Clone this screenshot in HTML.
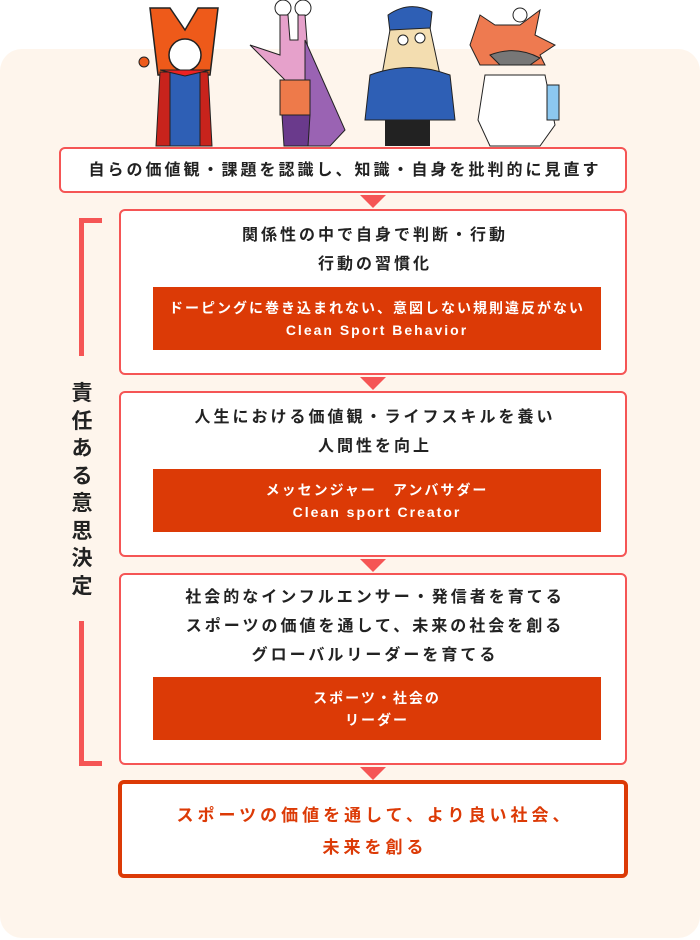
<!DOCTYPE html>
<html><head><meta charset="utf-8"><style>
*{margin:0;padding:0;box-sizing:border-box}
body{width:700px;height:940px;background:#fff;position:relative;overflow:hidden;font-family:"Liberation Sans","Noto Sans CJK JP",sans-serif;color:#222}
.panel{position:absolute;left:0;top:49px;width:700px;height:889px;background:#fef5ec;border-radius:22px}
.box{position:absolute;background:#fff;border:2px solid #f55555;border-radius:6px}
.t{position:absolute;left:0;right:0;text-align:center;font-size:16px;font-weight:bold;letter-spacing:3px;padding-left:4px;line-height:29px}
.bar{position:absolute;left:32px;width:448px;height:63px;background:#dc3a06;color:#fff;font-size:14px;font-weight:bold;letter-spacing:2px;text-align:center;display:flex;flex-direction:column;justify-content:center;line-height:22px}
.arr{position:absolute;left:360px;width:0;height:0;border-left:13px solid transparent;border-right:13px solid transparent;border-top:13px solid #f55555}
.br{position:absolute;background:#f55555}
.v{position:absolute;left:69px;top:380px;width:26px;font-size:21px;font-weight:bold;line-height:27.5px;text-align:center}
</style></head><body>
<div class="panel"></div>
<svg style="position:absolute;left:0;top:0" width="700" height="150" viewBox="0 0 700 150">
<path d="M150 8 L170 8 L185 30 L198 8 L218 8 L210 75 L158 75 Z" fill="#ee5a1a" stroke="#222" stroke-width="1.5"/>
<path d="M160 72 L156 146 L212 146 L208 72 Z" fill="#c8231c" stroke="#222"/>
<rect x="170" y="72" width="30" height="74" fill="#2e5fb5" stroke="#222"/>
<circle cx="185" cy="55" r="16" fill="#fff" stroke="#222" stroke-width="1.5"/>
<path d="M160 70 L210 70 L185 76Z" fill="#e22" stroke="#222"/>
<circle cx="144" cy="62" r="5" fill="#ee5a1a" stroke="#222"/>
<circle cx="283" cy="8" r="8" fill="#fff" stroke="#222"/><circle cx="303" cy="8" r="8" fill="#fff" stroke="#222"/>
<path d="M280 15 L288 15 L290 40 L298 40 L298 15 L305 15 L310 80 L295 100 L285 80 L250 45 L280 55Z" fill="#e6a1cb" stroke="#222"/>
<path d="M305 40 L345 130 L330 146 L305 146Z" fill="#9a63b3" stroke="#222"/>
<rect x="280" y="80" width="30" height="35" fill="#ee7a4a" stroke="#222"/>
<path d="M282 115 L310 115 L308 146 L284 146Z" fill="#6a3a8c" stroke="#222"/>
<path d="M388 15 Q410 0 432 12 L430 30 L390 32Z" fill="#2e5fb5" stroke="#222"/>
<path d="M390 30 L430 28 L440 75 L382 75Z" fill="#f3ddb0" stroke="#222"/>
<path d="M370 75 Q410 60 450 75 L455 120 L365 120Z" fill="#2e5fb5" stroke="#222"/>
<rect x="385" y="120" width="45" height="26" fill="#222"/>
<circle cx="403" cy="40" r="5" fill="#fff" stroke="#222"/><circle cx="420" cy="38" r="5" fill="#fff" stroke="#222"/>
<path d="M480 15 L495 25 L520 25 L540 10 L535 35 L555 45 L540 55 L545 65 L480 65 L470 45Z" fill="#ee7a50" stroke="#222"/>
<circle cx="520" cy="15" r="7" fill="#fff" stroke="#222"/>
<path d="M490 55 Q515 45 540 58 L530 65 L500 65Z" fill="#777" stroke="#222"/>
<path d="M485 75 L545 75 L555 125 L540 146 L490 146 L478 120Z" fill="#fff" stroke="#222"/>
<rect x="547" y="85" width="12" height="35" fill="#8cc8f0" stroke="#222"/>
</svg>
<div class="box" style="left:59px;top:147px;width:568px;height:46px"><div class="t" style="top:7px">自らの価値観・課題を認識し、知識・自身を批判的に見直す</div></div>
<div class="arr" style="top:195px"></div>
<div class="box" style="left:119px;top:209px;width:508px;height:166px">
<div class="t" style="top:10px">関係性の中で自身で判断・行動<br>行動の習慣化</div>
<div class="bar" style="top:76px">ドーピングに巻き込まれない、意図しない規則違反がない<br>Clean Sport Behavior</div></div>
<div class="arr" style="top:377px"></div>
<div class="box" style="left:119px;top:391px;width:508px;height:166px">
<div class="t" style="top:10px">人生における価値観・ライフスキルを養い<br>人間性を向上</div>
<div class="bar" style="top:76px">メッセンジャー　アンバサダー<br>Clean sport Creator</div></div>
<div class="arr" style="top:559px"></div>
<div class="box" style="left:119px;top:573px;width:508px;height:192px">
<div class="t" style="top:8px">社会的なインフルエンサー・発信者を育てる<br>スポーツの価値を通して、未来の社会を創る<br>グローバルリーダーを育てる</div>
<div class="bar" style="top:102px">スポーツ・社会の<br>リーダー</div></div>
<div class="arr" style="top:767px"></div>
<div class="box" style="left:118px;top:780px;width:510px;height:98px;border:4px solid #dc3a06">
<div class="t" style="top:16px;color:#dc3a06;font-size:17px;line-height:32px;letter-spacing:4px">スポーツの価値を通して、より良い社会、<br>未来を創る</div></div>
<div class="br" style="left:79px;top:218px;width:5px;height:138px"></div>
<div class="br" style="left:79px;top:218px;width:23px;height:5px"></div>
<div class="br" style="left:79px;top:621px;width:5px;height:145px"></div>
<div class="br" style="left:79px;top:761px;width:23px;height:5px"></div>
<div class="v">責任ある意思決定</div>
</body></html>
